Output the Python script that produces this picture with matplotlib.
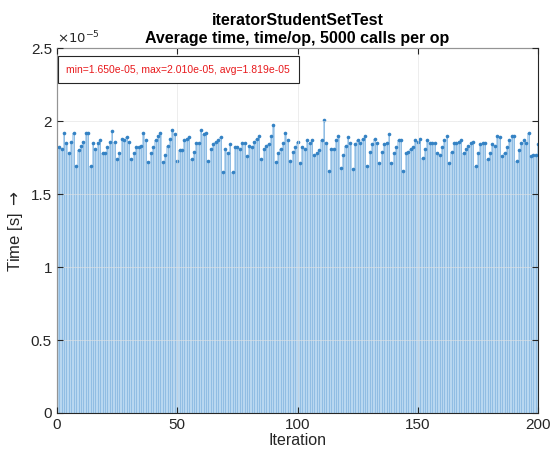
import numpy as np
import matplotlib
matplotlib.use('Agg')
import matplotlib.pyplot as plt
from matplotlib.ticker import FuncFormatter

plt.rcParams['font.family'] = ['Liberation Sans', 'DejaVu Sans']

# valores (en unidades de 1e-5 s)
vals_1 = [1.82, 1.81, 1.92, 1.85, 1.78, 1.86, 1.92, 1.69, 1.80, 1.83,
          1.86, 1.92, 1.92, 1.69, 1.85, 1.81, 1.85, 1.87, 1.78, 1.78,
          1.82, 1.86, 1.93, 1.86, 1.74, 1.78, 1.88, 1.87, 1.89, 1.86,
          1.74, 1.78, 1.82]
vals_2 = [1.82, 1.83, 1.92, 1.87, 1.72, 1.78, 1.82, 1.87, 1.90, 1.92,
          1.72, 1.77, 1.83, 1.88, 1.94, 1.91, 1.73, 1.80, 1.80, 1.87,
          1.88, 1.89, 1.74, 1.79, 1.85, 1.85, 1.94, 1.91, 1.92, 1.73,
          1.81, 1.84, 1.86, 1.87]
vals_3 = [1.89, 1.65, 1.81, 1.78, 1.84, 1.65, 1.82, 1.82, 1.81, 1.85,
          1.85, 1.76, 1.83, 1.82, 1.86, 1.88, 1.90, 1.74, 1.81, 1.83,
          1.84, 1.90, 1.97, 1.72, 1.78, 1.81, 1.85, 1.92, 1.87, 1.73,
          1.79, 1.82]
vals_4 = [1.86, 1.71, 1.82, 1.81, 1.87, 1.85, 1.87, 1.77, 1.78, 1.80,
          1.87, 2.01, 1.85, 1.66, 1.81, 1.81, 1.87, 1.90, 1.68, 1.77,
          1.83, 1.89, 1.85, 1.67, 1.84, 1.87, 1.85, 1.88, 1.90, 1.69,
          1.79, 1.84, 1.88, 1.85]
vals_5 = [1.71, 1.79, 1.84, 1.85, 1.91, 1.71, 1.78, 1.82, 1.87, 1.87,
          1.66, 1.78, 1.79, 1.81, 1.82, 1.87, 1.86, 1.88, 1.75, 1.81,
          1.87, 1.85, 1.85, 1.85, 1.78, 1.77, 1.82, 1.87, 1.90, 1.71,
          1.79, 1.85, 1.85, 1.86]
vals_6 = [1.87, 1.78, 1.81, 1.83, 1.85, 1.86, 1.69, 1.78, 1.84, 1.85,
          1.85, 1.74, 1.78, 1.84, 1.83, 1.90, 1.89, 1.76, 1.78, 1.82,
          1.87, 1.90, 1.90, 1.73, 1.80, 1.85, 1.87, 1.85, 1.92, 1.76,
          1.77, 1.77, 1.84]

times = np.array(vals_1 + vals_2 + vals_3 + vals_4 + vals_5 + vals_6) * 1e-5
iters = np.arange(1, len(times) + 1)

titulo = 'iteratorStudentSetTest\nAverage time, time/op, 5000 calls per op'
resumen = 'min=1.650e-05, max=2.010e-05, avg=1.819e-05'

fig = plt.figure(figsize=(5.52, 4.63), dpi=100)
ax = fig.add_axes([0.103, 0.108, 0.872, 0.788])

# barras de fondo y puntos (estilo stem de MATLAB)
ax.bar(iters, times, width=1.0, color='#b9d7f0', edgecolor='none', linewidth=0)
ax.vlines(iters, 0, times, color='#80b3de', linewidth=0.5)
ax.plot(iters, times, 'o', ms=2.6, color='#3482c4', markeredgewidth=0)

ax.set_xlim(0, 200)
ax.set_ylim(0, 2.5e-5)
ax.set_xticks([0, 50, 100, 150, 200])
ax.set_yticks(np.arange(0, 2.51e-5, 0.5e-5))
ax.yaxis.set_major_formatter(FuncFormatter(lambda v, p: '%g' % round(v / 1e-5, 2)))
ax.tick_params(direction='in', labelsize=11, colors='#262626', length=4, top=True, right=True)
for s in ax.spines.values():
    s.set_color('#262626')
    s.set_linewidth(0.8)
ax.grid(True, color='#e2e2e2', linewidth=0.6, alpha=0.7)
ax.set_axisbelow(False)

ax.text(0.0, 1.005, r'$\times10^{-5}$', transform=ax.transAxes, fontsize=9.5,
        color='#262626', va='bottom', ha='left')

ax.set_title(titulo, fontsize=11.5, fontweight='bold', color='#000000', pad=4, linespacing=1.2)
ax.set_xlabel('Iteration', fontsize=11.5, color='#262626', labelpad=1)
ax.set_ylabel(r'Time [s] $\rightarrow$', fontsize=12, color='#262626', labelpad=4)

ax.text(0.02, 0.955, resumen, transform=ax.transAxes, fontsize=7.5, color='#e8191c',
        va='top', ha='left',
        bbox=dict(boxstyle='square,pad=0.8', facecolor='white', edgecolor='#262626', linewidth=0.8))

fig.savefig('out.png', dpi=100)
